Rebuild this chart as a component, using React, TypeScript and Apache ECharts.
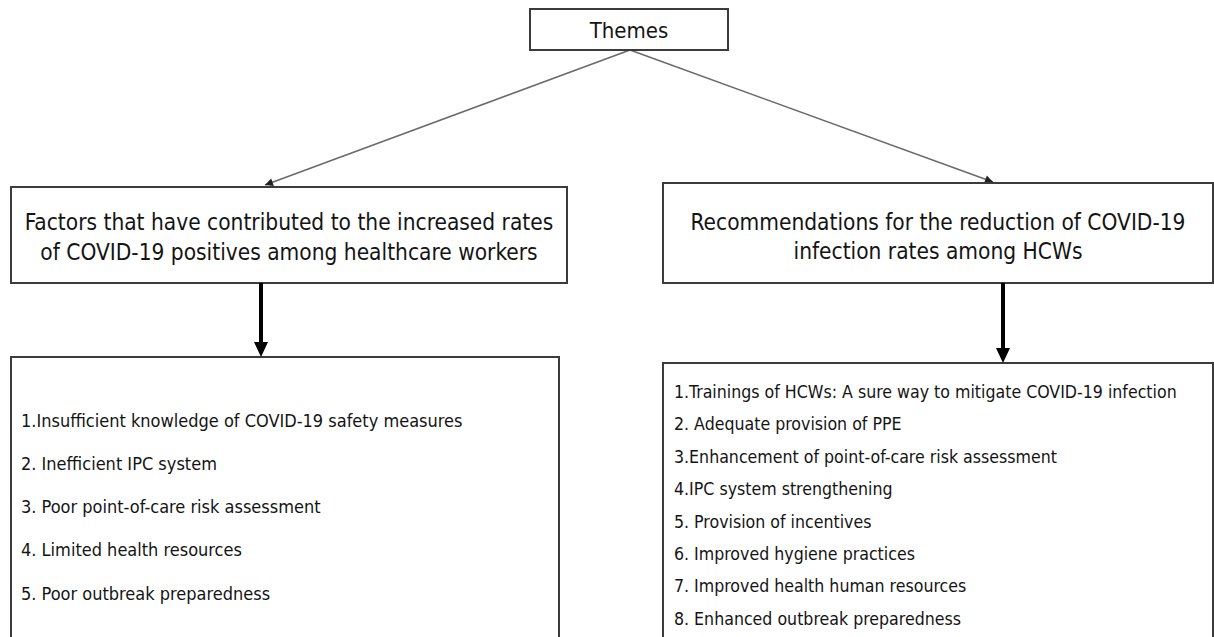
import React, { useEffect, useRef } from "react";
import * as echarts from "echarts";

const THEME_TITLE = "Themes";
const LEFT_HEADER = [
  "Factors that have contributed to the increased rates",
  "of COVID-19 positives among healthcare workers",
];
const RIGHT_HEADER = [
  "Recommendations for the reduction of COVID-19",
  "infection rates among HCWs",
];
const FACTORS = [
  "1.Insufficient knowledge of COVID-19 safety measures",
  "2. Inefficient IPC system",
  "3. Poor point-of-care risk assessment",
  "4. Limited health resources",
  "5. Poor outbreak preparedness",
];
const RECOMMENDATIONS = [
  "1.Trainings of HCWs: A sure way to mitigate COVID-19 infection",
  "2. Adequate provision of PPE",
  "3.Enhancement of point-of-care risk assessment",
  "4.IPC system strengthening",
  "5. Provision of incentives",
  "6. Improved hygiene practices",
  "7. Improved health human resources",
  "8. Enhanced outbreak preparedness",
];

const FONT = "'DejaVu Sans Condensed', 'DejaVu Sans', sans-serif";
const TEXT_COLOR = "#141414";
const BOX_COLOR = "#3c3c3c";

function arrowHead(fx: number, fy: number, tx: number, ty: number, len: number, half: number, fill: string) {
  const dx = tx - fx;
  const dy = ty - fy;
  const d = Math.sqrt(dx * dx + dy * dy);
  const ux = dx / d;
  const uy = dy / d;
  const bx = tx - ux * len;
  const by = ty - uy * len;
  return {
    type: "polygon",
    shape: {
      points: [
        [tx, ty],
        [bx - uy * half, by + ux * half],
        [bx + uy * half, by - ux * half],
      ],
    },
    style: { fill },
  };
}

function box(x: number, y: number, w: number, h: number) {
  return {
    type: "rect",
    shape: { x, y, width: w, height: h },
    style: { fill: "#fff", stroke: BOX_COLOR, lineWidth: 2 },
  };
}

function txt(text: string, x: number, y: number, size: number, align: string) {
  return {
    type: "text",
    style: {
      text,
      x,
      y,
      fontSize: size,
      fontFamily: FONT,
      fill: TEXT_COLOR,
      align,
      verticalAlign: "middle",
    },
  };
}

export default function App() {
  const ref = useRef<HTMLDivElement>(null);
  useEffect(() => {
    if (!ref.current) return;
    const chart = echarts.init(ref.current, undefined, { renderer: "svg" });
    const els: any[] = [];

    // thin arrows from Themes
    const sx = 630, sy = 50;
    const ends = [
      [265, 185],
      [993, 182],
    ];
    ends.forEach(([ex, ey]) => {
      els.push({
        type: "line",
        shape: { x1: sx, y1: sy, x2: ex, y2: ey },
        style: { stroke: "#6a6a6a", lineWidth: 1.6 },
      });
      els.push(arrowHead(sx, sy, ex, ey, 8, 4, "#222"));
    });

    // boxes
    els.push(box(530, 9, 198, 41));
    els.push(box(11, 187, 556, 96));
    els.push(box(663, 183, 550, 100));
    els.push(box(11, 357, 548, 282));
    els.push(box(663, 363, 550, 276));

    // thick arrows
    const thick = [
      [261, 283, 357],
      [1003, 283, 363],
    ];
    thick.forEach(([x, y1, y2]) => {
      els.push({
        type: "line",
        shape: { x1: x, y1, x2: x, y2: y2 - 12 },
        style: { stroke: "#000", lineWidth: 4 },
      });
      els.push(arrowHead(x, y1, x, y2, 15, 7, "#000"));
    });

    // texts
    els.push(txt(THEME_TITLE, 629, 30, 22, "center"));
    const lhY = [222, 252];
    LEFT_HEADER.forEach((t, i) => els.push(txt(t, 289, lhY[i], 22.5, "center")));
    const rhY = [222, 251];
    RIGHT_HEADER.forEach((t, i) => els.push(txt(t, 938, rhY[i], 22.5, "center")));

    FACTORS.forEach((t, i) => els.push(txt(t, 21, 420 + i * 43.3, 18, "left")));
    RECOMMENDATIONS.forEach((t, i) => els.push(txt(t, 674, 392 + i * 32.4, 17.6, "left")));

    chart.setOption({
      animation: false,
      backgroundColor: "#fff",
      graphic: { elements: els },
    });
    return () => chart.dispose();
  }, []);
  return (
    <div
      ref={ref}
      style={{ position: "absolute", left: 0, top: 0, width: 1214, height: 637 }}
    />
  );
}
